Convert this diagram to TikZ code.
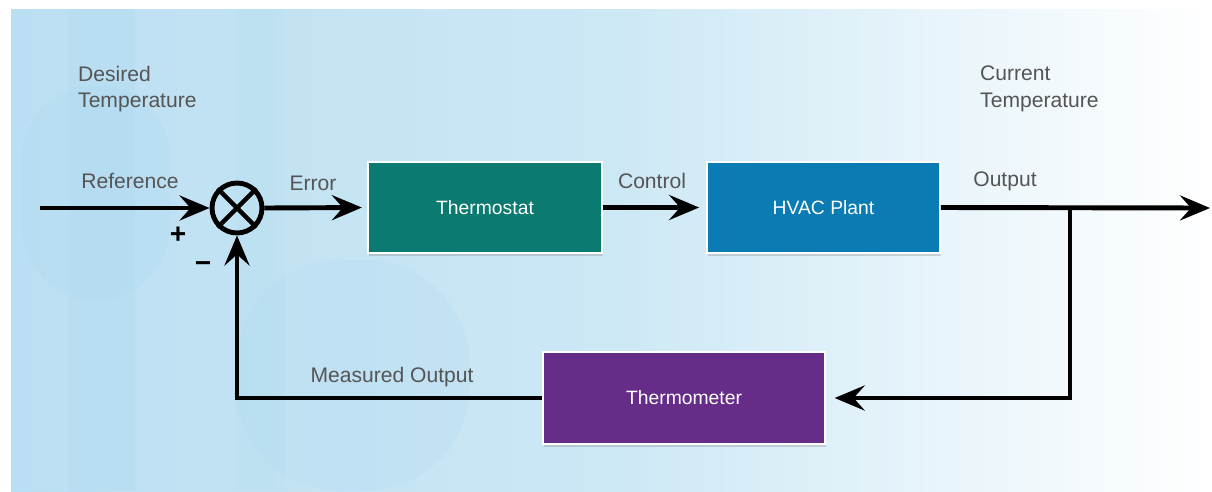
\documentclass[tikz,border=0pt]{standalone}
\usepackage{fontspec}
\setmainfont{Liberation Sans}
\usetikzlibrary{arrows.meta,shadows}

\definecolor{bgblue}{HTML}{BBDFF2}
\definecolor{bgmid}{HTML}{CCE8F5}
\definecolor{stripe}{HTML}{A9D6EE}
\definecolor{statgreen}{HTML}{0B7A70}
\definecolor{plantblue}{HTML}{0A7BB3}
\definecolor{meterpurple}{HTML}{652C88}
\definecolor{labelgray}{HTML}{555555}

\tikzset{
  block/.style={draw=white, line width=1pt, text=white, font=\fontsize{11}{13}\selectfont,
    minimum height=1.82cm, drop shadow={opacity=0.3, shadow xshift=0.6pt, shadow yshift=-1.5pt}},
  sig/.style={line width=2.8pt, -{Stealth[length=0.6cm, width=0.5cm, inset=0.22cm]}},
  lbl/.style={text=labelgray, font=\fontsize{12}{15}\selectfont},
}

\begin{document}
\begin{tikzpicture}[x=0.02cm, y=-0.02cm]
  \useasboundingbox (0,0) rectangle (1212,491);
  % background
  \shade[left color=bgblue, right color=white, middle color=bgmid] (11,9) rectangle (1212,491);
  \fill[stripe, opacity=0.2] (68,9) rectangle (135,491);
  \fill[stripe, opacity=0.15] (235,9) rectangle (285,491);
  \fill[stripe, opacity=0.2, rounded corners=42pt] (22,85) rectangle (170,300);
  \fill[stripe, opacity=0.2] (11,491) arc[start angle=180, end angle=90, radius=85] -- (96,491) -- cycle;
  \fill[stripe, opacity=0.15, rounded corners=60pt] (235,260) rectangle (470,491);

  % blocks
  \node[block, fill=statgreen, minimum width=4.68cm] (stat) at (485,207.5) {Thermostat};
  \node[block, fill=plantblue, minimum width=4.66cm] (plant) at (823.5,207.5) {HVAC Plant};
  \node[block, fill=meterpurple, minimum width=5.64cm, minimum height=1.84cm] (meter) at (684,398) {Thermometer};

  % summing junction
  \node[circle, draw, line width=2.8pt, minimum size=1.0cm, inner sep=0pt] (sum) at (237,208) {};
  \draw[line width=2.5pt] (sum.north west) -- (sum.south east);
  \draw[line width=2.5pt] (sum.north east) -- (sum.south west);

  \coordinate (in) at (40,208);
  \coordinate (out) at (1210,208);
  \coordinate (branch) at (1070,208);

  % connectors
  \draw[sig] (in) -- (sum.west);
  \draw[sig, shorten >=3pt] (sum.east) -- (stat.west);
  \draw[sig, shorten >=4pt] (stat.east) -- (plant.west);
  \draw[sig] (plant.east) -- (out);
  \draw[sig, shorten >=5pt] (branch) |- (meter.east);
  \draw[sig] (meter.west) -| (sum.south);

  % labels
  \node[lbl, align=left, anchor=north west] (desired) at (72,60) {Desired\\Temperature};
  \node[lbl, align=left, anchor=north west] (current) at (974,60) {Current\\Temperature};
  \node[lbl] (reflbl) at (130,181) {Reference};
  \node[lbl] (errlbl) at (313,183) {Error};
  \node[lbl] (ctrllbl) at (652,181) {Control};
  \node[lbl] (outlbl) at (1005,181) {Output};
  \node[lbl] (measlbl) at (392,377) {Measured Output};
  \node[font=\fontsize{16}{16}\selectfont\bfseries] (plus) at (178,235) {+};
  \node[font=\fontsize{16}{16}\selectfont\bfseries] (minus) at (203,267) {−};
\end{tikzpicture}
\end{document}
